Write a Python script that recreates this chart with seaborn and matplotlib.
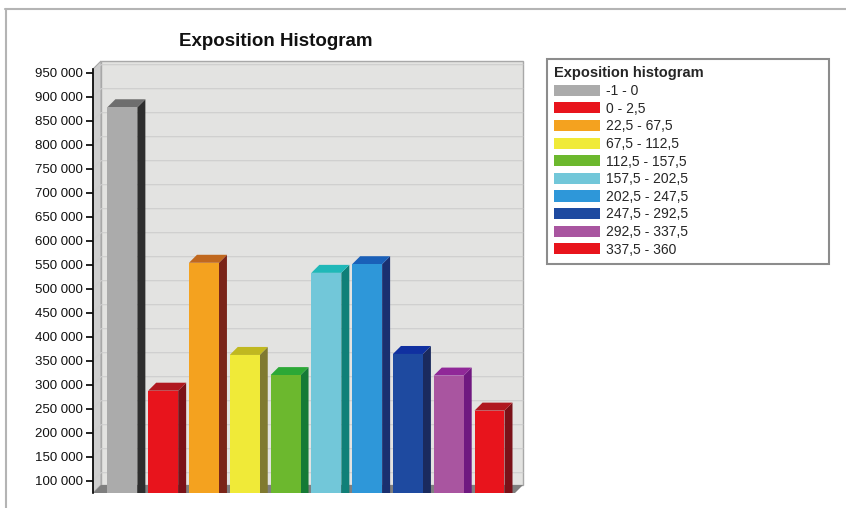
import matplotlib
matplotlib.use("Agg")
import matplotlib.pyplot as plt
from matplotlib.patches import Polygon, Patch, Rectangle
from matplotlib.lines import Line2D
from matplotlib.ticker import FuncFormatter
import seaborn as sns
import pandas as pd

# Exposure classes (degrees) and pixel counts per class
classes = ["-1 - 0", "0 - 2,5", "22,5 - 67,5", "67,5 - 112,5", "112,5 - 157,5",
           "157,5 - 202,5", "202,5 - 247,5", "247,5 - 292,5", "292,5 - 337,5",
           "337,5 - 360"]
counts = [878000, 287500, 554000, 362000, 320000, 533000, 551000, 364000, 319000, 246000]

# Front, side and top shades of each 3D column
front_colors = ["#ababab", "#e8141c", "#f4a21f", "#f0ea38", "#6cb82e",
                "#72c7d9", "#2e97d9", "#1e4aa0", "#a955a0", "#e8141c"]
side_colors = ["#2e2e2e", "#7a1118", "#7a2418", "#807a30", "#157a35",
               "#108078", "#1a3070", "#1a2a5e", "#701880", "#7a1118"]
top_colors = ["#6e6e6e", "#b01820", "#c0681e", "#c0b820", "#2ca836",
              "#20b8b8", "#1a60b8", "#1030a0", "#902898", "#b01820"]

y_ticks = list(range(100000, 950001, 50000))

sns.set_theme(style="white")
plt.rcParams["font.family"] = ["Liberation Sans", "DejaVu Sans"]

W, H = 846, 508
fig = plt.figure(figsize=(W / 100, H / 100), dpi=100)
fig.patch.set_facecolor("white")

# front plane of the 3D box, in pixels
L, R, T, B = 93, 515, 69, 493
ax = fig.add_axes([L / W, (H - B) / H, (R - L) / W, (B - T) / H])
ax.set_facecolor("none")

XMIN, XMAX = -0.72, 9.625
YMIN, YMAX = 74400, 957700
BAR_W = 0.735
DEPTH_PX = 8
dx = DEPTH_PX * (XMAX - XMIN) / (R - L)
dy = DEPTH_PX * (YMAX - YMIN) / (B - T)

df = pd.DataFrame({"cls": classes, "count": counts})
sns.barplot(data=df, x="cls", y="count", hue="cls", palette=front_colors,
            order=classes, hue_order=classes, width=BAR_W, legend=False,
            saturation=1, edgecolor="none", linewidth=0, ax=ax, zorder=5)

ax.set_xlim(XMIN, XMAX)
ax.set_ylim(YMIN, YMAX)

# box walls and floor
wall = Polygon([(XMIN + dx, YMIN + dy), (XMAX + dx, YMIN + dy),
                (XMAX + dx, YMAX + dy), (XMIN + dx, YMAX + dy)],
               closed=True, facecolor="#e3e3e1", edgecolor="#a8a8a8",
               linewidth=1.0, clip_on=False, zorder=0)
ax.add_patch(wall)
left_wall = Polygon([(XMIN, YMIN), (XMIN, YMAX), (XMIN + dx, YMAX + dy),
                     (XMIN + dx, YMIN + dy)],
                    closed=True, facecolor="#cfcfcf", edgecolor="#a8a8a8",
                    linewidth=0.8, clip_on=False, zorder=0.5)
ax.add_patch(left_wall)
for t in y_ticks:
    ax.plot([XMIN, XMIN + dx, XMAX + dx], [t, t + dy, t + dy],
            color="#cdcdcd", linewidth=0.8, clip_on=False, zorder=0.8)
floor = Polygon([(XMIN, YMIN), (XMAX, YMIN), (XMAX + dx, YMIN + dy),
                 (XMIN + dx, YMIN + dy)],
                closed=True, facecolor="#7f7f7f", edgecolor="none",
                clip_on=False, zorder=1)
ax.add_patch(floor)

# side and top faces of each column, built from the drawn bars
for bar, sc, tc in zip(ax.patches, side_colors, top_colors):
    if not isinstance(bar, Rectangle):
        continue
    x0 = bar.get_x()
    w = bar.get_width()
    v = bar.get_height()
    if v <= 0:
        continue
    side = Polygon([(x0 + w, YMIN), (x0 + w, v), (x0 + w + dx, v + dy),
                    (x0 + w + dx, YMIN)],
                   closed=True, facecolor=sc, edgecolor="none",
                   clip_on=False, zorder=4)
    top = Polygon([(x0, v), (x0 + w, v), (x0 + w + dx, v + dy), (x0 + dx, v + dy)],
                  closed=True, facecolor=tc, edgecolor="none",
                  clip_on=False, zorder=4)
    ax.add_patch(side)
    ax.add_patch(top)

# axes styling
for s in ["top", "right", "bottom"]:
    ax.spines[s].set_visible(False)
ax.spines["left"].set_color("black")
ax.spines["left"].set_linewidth(1.2)
ax.spines["left"].set_zorder(6)
ax.set_yticks(y_ticks)
ax.yaxis.set_major_formatter(FuncFormatter(lambda v, p: f"{int(v):,}".replace(",", " ")))
ax.tick_params(axis="y", direction="out", length=5, width=1.2, color="black",
               pad=2, labelsize=9.5, labelcolor="#111111", left=True)
ax.set_xticks([])
ax.set_xlabel("")
ax.set_ylabel("")
ax.grid(False)

# title
fig.text(276 / W, 1 - 42 / H, "Exposition Histogram", ha="center", va="center",
         fontsize=13.5, fontweight="bold", color="#111111")

# legend
handles = [Patch(facecolor=c, edgecolor="none") for c in front_colors]
leg = ax.legend(handles, classes, title="Exposition histogram",
                loc="upper left",
                bbox_to_anchor=(547 / W, 1 - 59 / H - 0.01, 282 / W, 0.01),
                bbox_transform=fig.transFigure, mode="expand",
                fontsize=10, title_fontproperties={"weight": "bold", "size": 10.5},
                alignment="left", handlelength=3.3, handleheight=0.85,
                handletextpad=0.45, labelspacing=0.26, borderpad=0.5,
                borderaxespad=0, frameon=True, fancybox=False, framealpha=1)
leg.get_frame().set_edgecolor("#8c8c8c")
leg.get_frame().set_linewidth(1.5)
leg._legend_box.sep = 3

# page border
fig.add_artist(Line2D([5 / W, 1], [1 - 9 / H, 1 - 9 / H], transform=fig.transFigure,
                      color="#b4b4b4", linewidth=1.5))
fig.add_artist(Line2D([6 / W, 6 / W], [0, 1 - 9 / H], transform=fig.transFigure,
                      color="#b4b4b4", linewidth=1.5))

fig.savefig("out.png", dpi=100)
